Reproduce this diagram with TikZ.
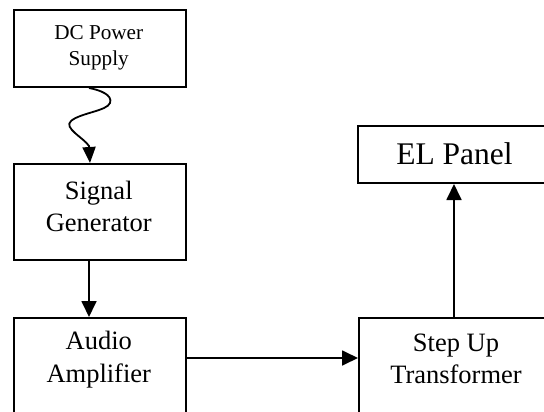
\documentclass[tikz,border=0pt]{standalone}
\usepackage{fontspec}
\setmainfont{Liberation Serif}
\usetikzlibrary{arrows.meta}
\begin{document}
\begin{tikzpicture}[x=1pt,y=-1pt,
  box/.style={draw,line width=2pt,rectangle,inner sep=0pt,anchor=north west},
  lbl/.style={inner sep=0pt,align=center},
  fa/.style={font=\fontsize{21.2}{25.8}\selectfont},
  fb/.style={font=\fontsize{26.5}{32.7}\selectfont},
  fc/.style={font=\fontsize{31.5}{38}\selectfont},
  arr/.style={line width=1.8pt,-{Triangle[length=16pt,width=15pt]}}]
\useasboundingbox (0,0) rectangle (544,412);
\clip (0,0) rectangle (544,412);
% boxes
\node[box,minimum width=172.5pt,minimum height=76.5pt] (dc) at (12.5,9.5) {};
\node[box,minimum width=172.5pt,minimum height=96pt] (sg) at (12.5,163) {};
\node[box,minimum width=172.5pt,minimum height=96pt] (aa) at (12.5,317) {};
\node[box,minimum width=196pt,minimum height=96pt] (st) at (358,317) {};
\node[box,minimum width=195pt,minimum height=57pt] (el) at (357,125) {};
% texts
\node[lbl,fa] (dct) at (98.75,48) {DC Power\\Supply};
\node[lbl,fb] (sgt) at (98.75,206.5) {Signal\\Generator};
\node[lbl,fb] (aat) at (98.75,359.5) {Audio\\Amplifier};
\node[lbl,fb] (stt) at (456,359) {Step Up\\Transformer};
\node[lbl,fc] (elt) at (454.5,153.7) {EL Panel};
% connectors
\draw[arr,-{Triangle[length=16pt,width=13pt]}] (dc.south -| 89,0)
  .. controls (100,90) and (113,95) .. (110,103)
  .. controls (107,111) and (80,113) .. (71,121)
  .. controls (63,128) and (84,138) .. (89,146)
  -- (sg.north -| 90,0);
\draw[arr] (sg.south -| 89,0) -- (aa.north -| 89,0);
\draw[arr] (aa.east |- 0,358) -- (st.west |- 0,358);
\draw[arr] (st.north -| 454,0) -- (el.south -| 454,0);
\end{tikzpicture}
\end{document}
